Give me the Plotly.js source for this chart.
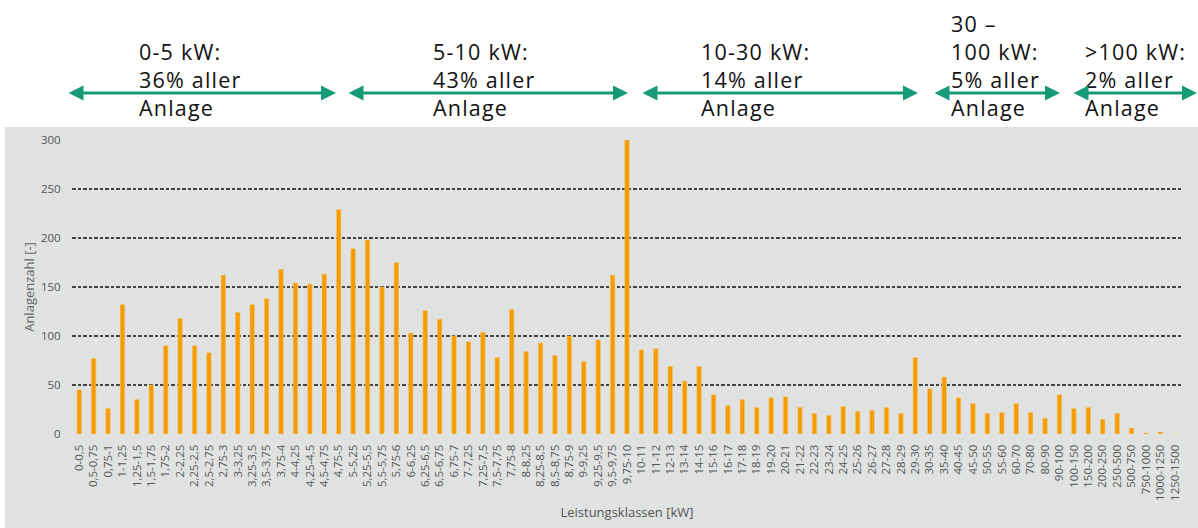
<!DOCTYPE html>
<html><head><meta charset="utf-8">
<script src="https://cdn.plot.ly/plotly-3.0.1.min.js"></script>
<style>
html,body{margin:0;padding:0;background:#fff;}
#chart{width:1198px;height:528px;}
#chart .annotation-text{letter-spacing:1.2px;}
</style>
</head><body><div id="chart"></div>
<script>
const categories = [
  "0-0,5","0,5-0,75","0,75-1","1-1,25","1,25-1,5","1,5-1,75","1,75-2","2-2,25","2,25-2,5","2,5-2,75",
  "2,75-3","3-3,25","3,25-3,5","3,5-3,75","3,75-4","4-4,25","4,25-4,5","4,5-4,75","4,75-5","5-5,25",
  "5,25-5,5","5,5-5,75","5,75-6","6-6,25","6,25-6,5","6,5-6,75","6,75-7","7-7,25","7,25-7,5","7,5-7,75",
  "7,75-8","8-8,25","8,25-8,5","8,5-8,75","8,75-9","9-9,25","9,25-9,5","9,5-9,75","9,75-10",
  "10-11","11-12","12-13","13-14","14-15","15-16","16-17","17-18","18-19","19-20",
  "20-21","21-22","22-23","23-24","24-25","25-26","26-27","27-28","28-29","29-30",
  "30-35","35-40","40-45","45-50","50-55","55-60","60-70","70-80","80-90","90-100",
  "100-150","150-200","200-250","250-500","500-750","750-1000","1000-1250","1250-1500"
];
const counts = [
  45,77,26,132,35,50,90,118,90,83,
  162,124,132,138,168,154,153,163,229,189,
  198,150,175,103,126,117,100,94,104,78,
  127,84,93,80,100,74,96,162,300,
  86,87,69,54,69,40,29,35,27,37,
  38,27,21,19,28,23,24,27,21,78,
  46,58,37,31,21,22,31,22,16,40,
  26,27,15,21,6,1,2,0
];
const groupTexts = [
  "0-5 kW:<br>36% aller<br>Anlage",
  "5-10 kW:<br>43% aller<br>Anlage",
  "10-30 kW:<br>14% aller<br>Anlage",
  "30 –<br>100 kW:<br>5% aller<br>Anlage",
  ">100 kW:<br>2% aller<br>Anlage"
];
const yTitle = "Anlagenzahl [-]";
const xTitle = "Leistungsklassen [kW]";

// layout helpers (pixel -> paper)
const L = 72, R = 1182, T = 140, B = 434;
const px = v => (v - L) / (R - L);
const py = v => (B - v) / (B - T);

const textX = [137, 431, 699, 949, 1083];
const arrows = [[67,336],[347,628],[641,918],[933,1060],[1072,1197]];
const green = "#179a78";

const annotations = [];
groupTexts.forEach((t, i) => {
  annotations.push({
    text: t, xref: "paper", yref: "paper", x: px(textX[i]), y: py(124),
    xanchor: "left", yanchor: "bottom", align: "left", showarrow: false,
    font: {family: "Open Sans", size: 21.5, color: "#111"}
  });
});
arrows.forEach(a => {
  annotations.push({
    text: "", xref: "paper", yref: "paper", x: px(a[1]), y: py(93),
    ax: -(a[1] - a[0]), ay: 0, showarrow: true, arrowside: "end+start",
    arrowhead: 2, arrowsize: 1, arrowwidth: 3, arrowcolor: green
  });
});

const trace = {
  type: "bar", x: categories, y: counts,
  marker: {color: "#f49b00", line: {color: "#f7c36b", width: 0.6}},
  hoverinfo: "x+y"
};

const layout = {
  width: 1198, height: 528,
  margin: {l: L, r: 1198 - R, t: T, b: 528 - B},
  paper_bgcolor: "#ffffff",
  plot_bgcolor: "rgba(0,0,0,0)",
  bargap: 0.69,
  showlegend: false,
  font: {family: "Open Sans", color: "#555"},
  xaxis: {
    type: "category", tickangle: -90, automargin: false,
    tickfont: {size: 11.5, color: "#555"},
    ticks: "outside", ticklen: 5, tickcolor: "rgba(0,0,0,0)",
    showgrid: false, showline: false, zeroline: false,
    title: {text: xTitle, font: {size: 13, color: "#555"}, standoff: 7}
  },
  yaxis: {
    range: [0, 300], tickvals: [0,50,100,150,200,250,300], automargin: false,
    tickfont: {size: 11.5, color: "#555"},
    ticks: "outside", ticklen: 8, tickcolor: "rgba(0,0,0,0)",
    showgrid: true, gridcolor: "#444444", gridwidth: 1.5, griddash: "3.5px,2px",
    zeroline: false, showline: false,
    title: {text: yTitle, font: {size: 13, color: "#666"}, standoff: 3}
  },
  shapes: [{
    type: "rect", xref: "paper", yref: "paper", layer: "below",
    x0: px(5), x1: px(1200), y0: py(530), y1: py(127),
    fillcolor: "#e0e2e1", line: {width: 0}
  }],
  annotations: annotations
};

Plotly.newPlot("chart", [trace], layout, {displayModeBar: false, staticPlot: true});
</script>
</body></html>
